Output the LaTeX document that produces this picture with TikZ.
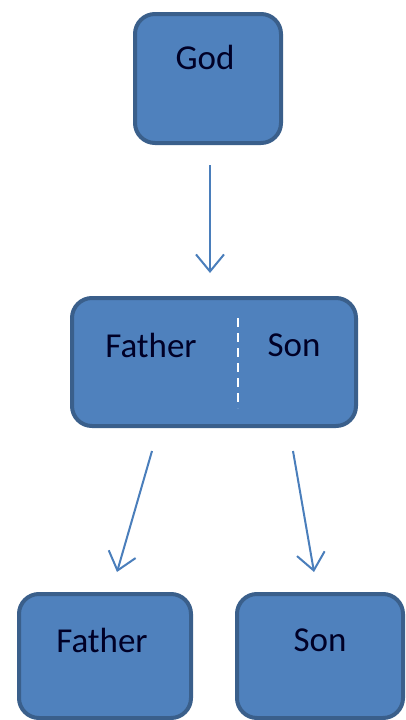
\documentclass[tikz,border=0pt]{standalone}
\usepackage{fontspec}
\setmainfont{Carlito}
\usetikzlibrary{arrows.meta}
\definecolor{boxfill}{HTML}{4F81BD}
\definecolor{boxline}{HTML}{3A5F8B}
\definecolor{arrcol}{HTML}{4A7EBB}
\begin{document}
\begin{tikzpicture}[x=1pt,y=-1pt,
  box/.style={draw=boxline, fill=boxfill, line width=4pt, rounded corners=20pt, inner sep=0pt},
  lbl/.style={font=\fontsize{35}{40}\selectfont, text=black!85!blue, inner sep=0pt},
  arr/.style={draw=arrcol, line width=2pt, -{Straight Barb[length=17pt,width=28pt,line width=2pt]}}]
\useasboundingbox (0,0) rectangle (406,720);
\node[box, minimum width=146pt, minimum height=129pt] (god) at (208,78.5) {};
\node[box, minimum width=284pt, minimum height=128pt] (mid) at (214,362) {};
\node[box, minimum width=172pt, minimum height=124pt] (fl) at (105,656) {};
\node[box, minimum width=166pt, minimum height=124pt] (sr) at (320,656) {};
\node[lbl] (tgod) at (205,57) {God};
\node[lbl] (tmf) at (151,345) {Father};
\node[lbl] (tms) at (294,345) {Son};
\node[lbl] (tf) at (102,640) {Father};
\node[lbl] (ts) at (320,640) {Son};
\coordinate (dtop) at (238,318);
\coordinate (dbot) at (238,408);
\draw[white, line width=2pt, dash pattern=on 9pt off 6pt] (dtop) -- (dbot);
\draw[arr] ([xshift=2pt,yshift=-20pt]god.south) -- ([xshift=-4pt,yshift=23pt]mid.north);
\draw[arr] ([xshift=-62pt,yshift=-23pt]mid.south) -- ([xshift=12pt,yshift=20pt]fl.north);
\draw[arr] ([xshift=79pt,yshift=-23pt]mid.south) -- ([xshift=-6pt,yshift=20pt]sr.north);
\end{tikzpicture}
\end{document}
